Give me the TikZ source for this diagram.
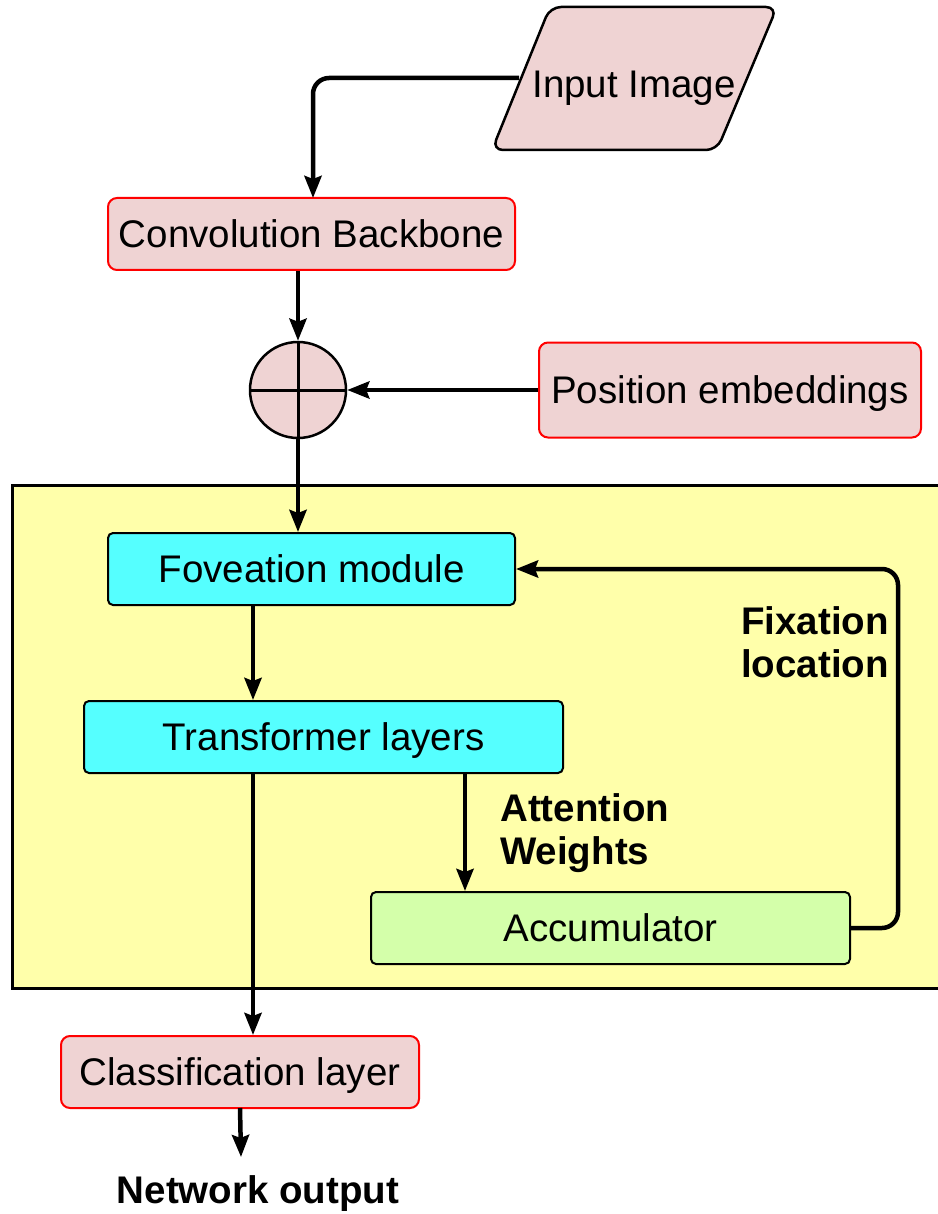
\documentclass[tikz,border=0pt]{standalone}
\usepackage{fontspec}
\setmainfont{Liberation Sans}
\usetikzlibrary{arrows.meta,calc}
\definecolor{pinkfill}{RGB}{239,211,211}
\definecolor{yellowfill}{RGB}{255,255,170}
\definecolor{cyanfill}{RGB}{85,255,255}
\definecolor{greenfill}{RGB}{212,255,170}
\begin{document}
\begin{tikzpicture}[x=1pt,y=-1pt,
  every node/.style={font=\fontsize{38.5}{43}\selectfont, inner sep=0pt},
  boxtext/.style={text height=27.5pt, text depth=0pt},
  pinkbox/.style={boxtext, draw=red, line width=2pt, fill=pinkfill, rounded corners=9pt},
  cyanbox/.style={boxtext, draw=black, line width=2pt, fill=cyanfill, rounded corners=5pt},
  greenbox/.style={boxtext, draw=black, line width=2pt, fill=greenfill, rounded corners=5pt},
  boldlabel/.style={font=\fontsize{38.5}{43}\selectfont\bfseries, align=left},
  arr/.style={draw=black, line width=4.5pt, -{Stealth[length=22pt,width=17pt,inset=3pt]}},
]
\useasboundingbox (0,0) rectangle (937,1214);

% yellow panel
\fill[yellowfill, draw=black, line width=3pt] (12,485) rectangle (950,988);

% input image parallelogram
\draw[line width=2.5pt, fill=pinkfill, rounded corners=11pt]
  (550,7) -- (777,7) -- (717,150) -- (492,150) -- cycle;
\node[boxtext] (input) at (634,84) {Input Image};
\coordinate (inL) at (519,78);

\node[pinkbox, minimum width=407pt, minimum height=72pt] (conv) at (311.5,234) {Convolution Backbone};
\node[pinkbox, minimum width=382pt, minimum height=95pt] (pos) at (730,390) {Position embeddings};
\node[draw=black, line width=2.5pt, fill=pinkfill, circle, minimum size=96pt,
  path picture={\draw[line width=3pt] (path picture bounding box.north) -- (path picture bounding box.south);
                \draw[line width=3pt] (path picture bounding box.west) -- (path picture bounding box.east);}]
  (plus) at (298,390) {};

\node[cyanbox, minimum width=407pt, minimum height=72pt] (fov) at (311.5,569) {Foveation module};
\node[cyanbox, minimum width=479pt, minimum height=72pt] (tr) at (323.5,737) {Transformer layers};
\node[greenbox, minimum width=479pt, minimum height=72pt] (acc) at (610.5,928) {Accumulator};
\node[pinkbox, minimum width=358pt, minimum height=72pt] (cls) at (240,1072) {Classification layer};

\node[boldlabel, anchor=west] (fix) at (741,642) {Fixation\\location};
\node[boldlabel, anchor=west] (att) at (500,833) {Attention\\Weights};
\node[font=\fontsize{38.5}{43}\selectfont\bfseries] (out) at (258,1194) {Network output};

\coordinate (xa) at (253,0);
\coordinate (xb) at (465,0);
\coordinate (outtip) at (241,1157);

% connectors
\draw[arr, rounded corners=16pt] (inL) -| (313,198);
\draw[arr] (plus.north |- conv.south) -- (plus.north);
\draw[arr] (pos.west) -- (plus.east);
\draw[arr] (plus.south) -- (plus.south |- fov.north);
\draw[arr] (fov.south -| xa) -- (tr.north -| xa);
\draw[arr] (tr.south -| xa) -- (cls.north -| xa);
\draw[arr] (tr.south -| xb) -- (acc.north -| xb);
\draw[arr, rounded corners=16pt] (acc.east) -- ++(47,0) |- (fov.east);
\draw[arr] (cls.south |- outtip) ++(0,-49) -- (outtip);
\end{tikzpicture}
\end{document}
